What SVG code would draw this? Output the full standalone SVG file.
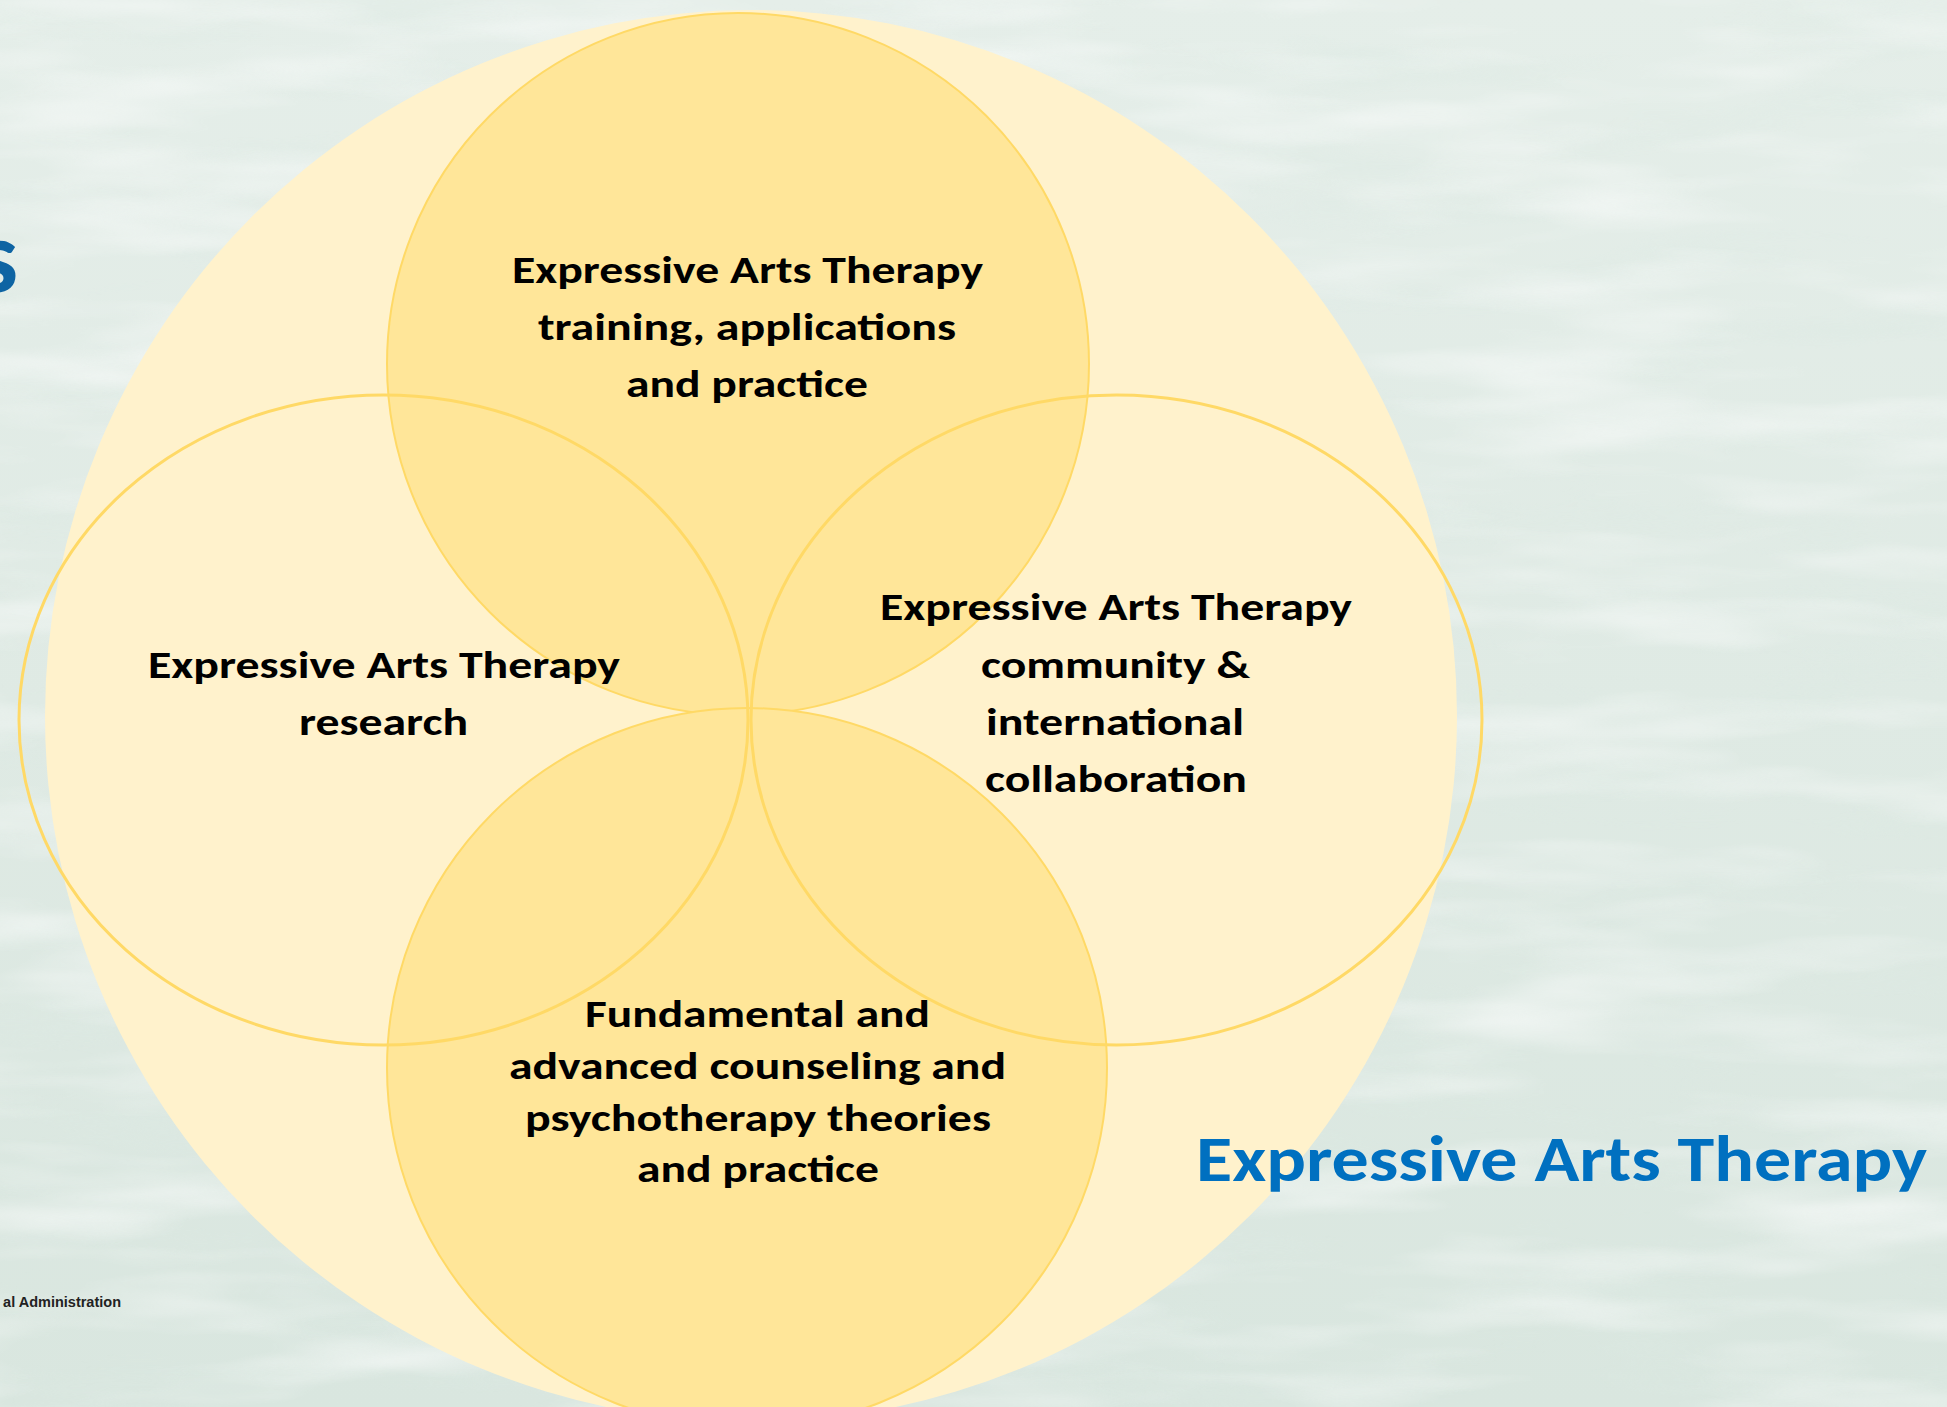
<svg xmlns="http://www.w3.org/2000/svg" width="1947" height="1407" viewBox="0 0 1947 1407">
  <defs>
    <linearGradient id="bg" x1="0" y1="0" x2="0" y2="1">
      <stop offset="0" stop-color="#e5eee9"/>
      <stop offset="1" stop-color="#d9e6df"/>
    </linearGradient>
    <filter id="waterLight" x="0" y="0" width="100%" height="100%" filterUnits="userSpaceOnUse">
      <feTurbulence type="fractalNoise" baseFrequency="0.0035 0.02" numOctaves="3" seed="7"/>
      <feColorMatrix type="matrix" values="0 0 0 0 1  0 0 0 0 1  0 0 0 0 1  2.2 0 0 0 -1.0"/>
    </filter>
    <filter id="waterDark" x="0" y="0" width="100%" height="100%" filterUnits="userSpaceOnUse">
      <feTurbulence type="fractalNoise" baseFrequency="0.004 0.022" numOctaves="3" seed="23"/>
      <feColorMatrix type="matrix" values="0 0 0 0 0.72  0 0 0 0 0.82  0 0 0 0 0.77  0 2.0 0 0 -1.05"/>
    </filter>
    <style>
      .outer { fill: #FFF2CC; stroke: none; }
      .solid { fill: #FFE699; stroke: #FFD966; stroke-width: 2; }
      .ring { fill: none; stroke: #FFD966; stroke-width: 3; }
      .lbl { font-family: Carlito, Calibri, Lato, "Open Sans", sans-serif; font-weight: bold; font-size: 39px; fill: #000000; }
      .title { font-family: Carlito, Calibri, Lato, "Open Sans", sans-serif; font-weight: bold; fill: #0070C0; }
      .foot { font-family: "Liberation Sans", Arial, sans-serif; font-weight: bold; font-size: 14.5px; fill: #222222; }
    </style>
  </defs>

  <g id="background">
    <rect x="0" y="0" width="1947" height="1407" fill="url(#bg)"/>
    <rect x="0" y="0" width="1947" height="1407" filter="url(#waterDark)" opacity="0.6"/>
    <rect x="0" y="0" width="1947" height="1407" filter="url(#waterLight)" opacity="0.55"/>
  </g>

  <g id="slide-fragments">
    <text x="18" y="292" text-anchor="end" class="title" font-size="103" fill="#0e64a3" style="fill:#0e64a3">s</text>
    <text x="121" y="1307" text-anchor="end" class="foot">al Administration</text>
  </g>

  <g id="node-outer">
    <circle class="outer" cx="751" cy="716" r="706"/>
  </g>

  <g id="node-training">
    <circle class="solid" cx="738" cy="364" r="351"/>
    <text class="lbl" x="512" y="283" textLength="471" lengthAdjust="spacingAndGlyphs">Expressive Arts Therapy</text>
    <text class="lbl" x="538" y="340" textLength="418" lengthAdjust="spacingAndGlyphs">training, applications</text>
    <text class="lbl" x="626" y="397" textLength="242" lengthAdjust="spacingAndGlyphs">and practice</text>
  </g>

  <g id="node-fundamental">
    <circle class="solid" cx="747" cy="1068" r="360"/>
    <text class="lbl" x="585" y="1027" textLength="345" lengthAdjust="spacingAndGlyphs">Fundamental and</text>
    <text class="lbl" x="509" y="1079" textLength="497" lengthAdjust="spacingAndGlyphs">advanced counseling and</text>
    <text class="lbl" x="525" y="1131" textLength="466" lengthAdjust="spacingAndGlyphs">psychotherapy theories</text>
    <text class="lbl" x="637" y="1182" textLength="242" lengthAdjust="spacingAndGlyphs">and practice</text>
  </g>

  <g id="node-research">
    <ellipse class="ring" cx="383.5" cy="720" rx="364.5" ry="325"/>
    <text class="lbl" x="148" y="678" textLength="472" lengthAdjust="spacingAndGlyphs">Expressive Arts Therapy</text>
    <text class="lbl" x="299" y="735" textLength="169" lengthAdjust="spacingAndGlyphs">research</text>
  </g>

  <g id="node-community">
    <ellipse class="ring" cx="1116.5" cy="720" rx="365.5" ry="325"/>
    <text class="lbl" x="880" y="620" textLength="472" lengthAdjust="spacingAndGlyphs">Expressive Arts Therapy</text>
    <text class="lbl" x="981" y="678" textLength="269" lengthAdjust="spacingAndGlyphs">community &amp;</text>
    <text class="lbl" x="986" y="735" textLength="258" lengthAdjust="spacingAndGlyphs">international</text>
    <text class="lbl" x="985" y="792" textLength="262" lengthAdjust="spacingAndGlyphs">collaboration</text>
  </g>

  <g id="connectors"></g>

  <g id="caption">
    <text class="title" x="1196" y="1181" font-size="65" textLength="731" lengthAdjust="spacingAndGlyphs">Expressive Arts Therapy</text>
  </g>
</svg>
